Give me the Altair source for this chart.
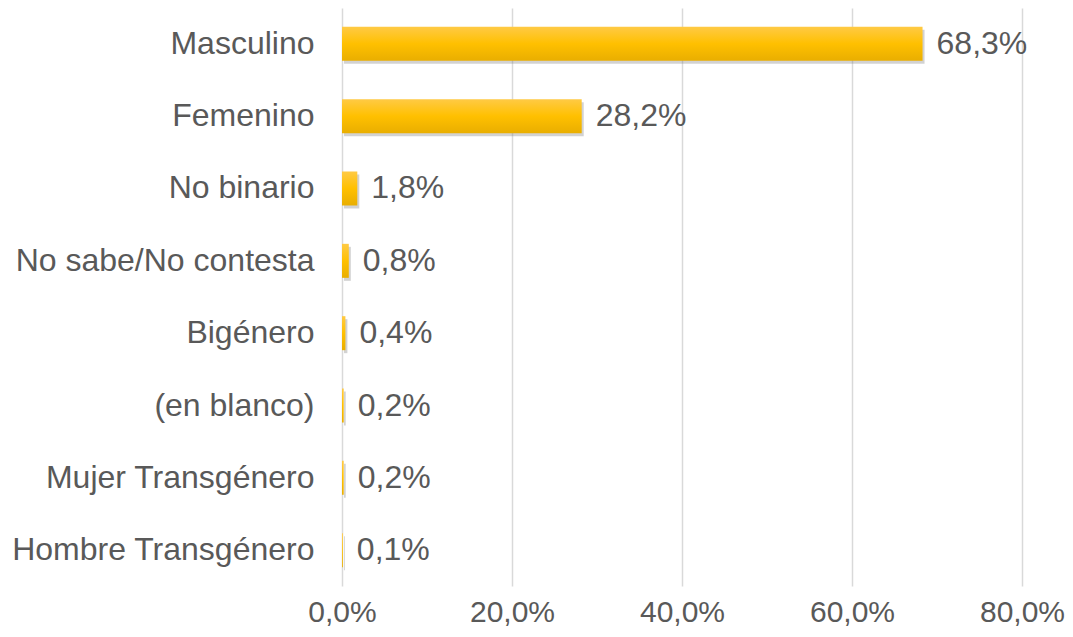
import altair as alt
import pandas as pd

categories = ["Masculino", "Femenino", "No binario", "No sabe/No contesta",
              "Bigénero", "(en blanco)", "Mujer Transgénero", "Hombre Transgénero"]
values = [68.3, 28.2, 1.8, 0.8, 0.4, 0.2, 0.2, 0.1]
x_ticks = [0, 20, 40, 60, 80]

df = pd.DataFrame({"cat": categories, "val": values})

FONT = "Liberation Sans"
TXT = "#595959"
FS = 32

x = alt.X("val:Q", scale=alt.Scale(domain=[0, 80], nice=False),
          axis=alt.Axis(values=x_ticks, title=None, domain=False, ticks=False,
                        grid=True, gridColor="#d9d9d9", gridWidth=1.5,
                        labelFont=FONT, labelFontSize=30, labelColor=TXT,
                        labelPadding=11, labelFlush=False, labelOverlap=False,
                        labelBound=False,
                        labelExpr="replace(format(datum.value, '.1f'), '.', ',') + '%'"))
y = alt.Y("cat:N", sort=categories,
          scale=alt.Scale(paddingInner=0.53, paddingOuter=0.26),
          axis=alt.Axis(title=None, domain=False, ticks=False, grid=False,
                        labelFont=FONT, labelFontSize=FS, labelColor=TXT,
                        labelPadding=28, labelLimit=400))

base = alt.Chart(df)

shadow = base.mark_bar(color="#7f7f7f", opacity=0.35, xOffset=2, yOffset=3).encode(x=x, y=y)

grad = alt.Gradient(gradient="linear", x1=0, y1=0, x2=0, y2=1,
                    stops=[alt.GradientStop(color="#FFCA45", offset=0),
                           alt.GradientStop(color="#FFC000", offset=0.5),
                           alt.GradientStop(color="#E9AE00", offset=1)])
bars = base.mark_bar(color=grad).encode(x=x, y=y)

labels = base.transform_calculate(
    lbl="replace(format(datum.val, '.1f'), '.', ',') + '%'"
).mark_text(align="left", baseline="middle", dx=14, font=FONT, fontSize=FS,
            color=TXT).encode(x=x, y=y, text="lbl:N")

chart = alt.layer(shadow, bars, labels).properties(
    width=680, height=578,
    autosize=alt.AutoSizeParams(type="none"),
    padding={"left": 334, "top": 0, "right": 43, "bottom": 42},
).configure_view(stroke=None)

chart.save("out.html", embed_options={"renderer": "svg", "actions": False})
